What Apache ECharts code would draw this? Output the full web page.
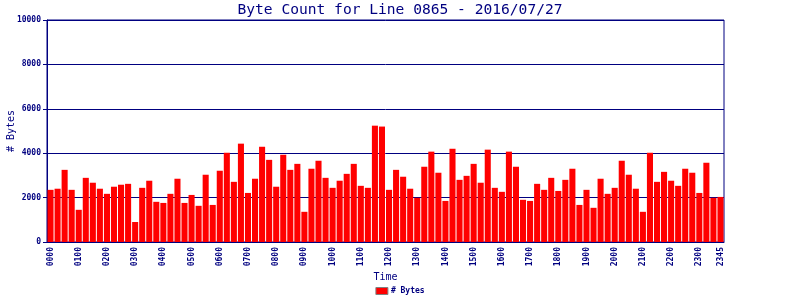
<!DOCTYPE html>
<html>
<head>
<meta charset="utf-8">
<script src="https://cdn.jsdelivr.net/npm/echarts@6/dist/echarts.min.js"></script>
<style>
  html, body { margin: 0; padding: 0; background: #fff; }
  #chart { width: 800px; height: 300px; }
</style>
</head>
<body>
<div id="chart"></div>
<script>
  // 15 minute slots, 0000 .. 2345
  var times = []
  for (var h = 0; h < 24; h++) {
    for (var m = 0; m < 60; m += 15) {
      times.push(('0' + h).slice(-2) + ('0' + m).slice(-2))
    }
  }

  var bytes = [
    2350, 2400, 3250, 2350, 1450, 2890, 2670, 2400, 2170, 2490, 2580, 2620,
    900, 2440, 2760, 1810, 1760, 2170, 2850, 1760, 2120, 1630, 3030, 1670,
    3210, 4020, 2710, 4430, 2210, 2850, 4290, 3700, 2490, 3930, 3250, 3520,
    1360, 3300, 3660, 2890, 2440, 2760, 3070, 3520, 2530, 2440, 5240, 5200,
    2350, 3250, 2940, 2400, 1990, 3390, 4070, 3120, 1850, 4200, 2800, 2980,
    3520, 2670, 4160, 2440, 2260, 4070, 3390, 1900, 1850, 2620, 2350, 2890,
    2300, 2800, 3300, 1670, 2350, 1540, 2850, 2170, 2440, 3660, 3030, 2400,
    1360, 4020, 2710, 3160, 2760, 2530, 3300, 3120, 2210, 3570, 1990, 2030
  ]

  var yTicks = [0, 2000, 4000, 6000, 8000, 10000]

  var navy = '#000080'
  var mono = '"DejaVu Sans Mono", monospace'

  var chart = echarts.init(document.getElementById('chart'))
  var option = {
    animation: false,
    backgroundColor: '#fff',
    title: {
      text: 'Byte Count for Line 0865 - 2016/07/27',
      left: 'center',
      top: -2,
      textStyle: {
        color: navy,
        fontFamily: mono,
        fontWeight: 'normal',
        fontSize: 14.6,
      },
    },
    legend: {
      data: ['# Bytes'],
      bottom: 0,
      left: 'center',
      itemWidth: 12,
      itemHeight: 7,
      itemGap: 4,
      icon: 'rect',
      textStyle: {
        color: navy,
        fontFamily: mono,
        fontWeight: 'bold',
        fontSize: 8,
        padding: [0, 0, 0, -2],
      },
      itemStyle: {
        borderColor: '#808080',
        borderWidth: 1,
      },
    },
    grid: {
      left: 47,
      right: 76,
      top: 20,
      bottom: 58,
      show: true,
      borderColor: navy,
      borderWidth: 1,
      containLabel: false,
      outerBoundsMode: 'none',
    },
    xAxis: {
      type: 'category',
      data: times,
      name: 'Time',
      nameLocation: 'middle',
      nameGap: 30,
      nameMoveOverlap: false,
      nameTextStyle: {
        color: navy,
        fontFamily: mono,
        fontSize: 10,
      },
      axisLine: { lineStyle: { color: navy, width: 1 } },
      axisTick: { show: false },
      axisLabel: {
        rotate: 90,
        margin: 5,
        color: navy,
        fontFamily: mono,
        fontWeight: 'bold',
        fontSize: 8,
        interval: function (i) {
          return i % 4 === 0 || i === times.length - 1
        },
      },
    },
    yAxis: {
      type: 'value',
      min: yTicks[0],
      max: yTicks[yTicks.length - 1],
      interval: yTicks[1] - yTicks[0],
      name: '# Bytes',
      nameLocation: 'middle',
      nameGap: 31,
      nameMoveOverlap: false,
      nameTextStyle: {
        color: navy,
        fontFamily: mono,
        fontSize: 10,
      },
      axisLine: { show: true, lineStyle: { color: navy, width: 1 } },
      axisTick: { show: true, length: 4, lineStyle: { color: navy } },
      axisLabel: {
        margin: 6,
        color: navy,
        fontFamily: mono,
        fontWeight: 'bold',
        fontSize: 8,
        formatter: function (v) { return String(v) },
      },
      splitLine: { show: true, lineStyle: { color: navy, width: 1 } },
    },
    color: ['#ff0000'],
    series: [
      {
        name: '# Bytes',
        type: 'bar',
        data: bytes,
        barCategoryGap: '14%',
        itemStyle: { color: '#ff0000' },
      },
    ],
  }
  chart.setOption(option)
</script>
</body>
</html>
